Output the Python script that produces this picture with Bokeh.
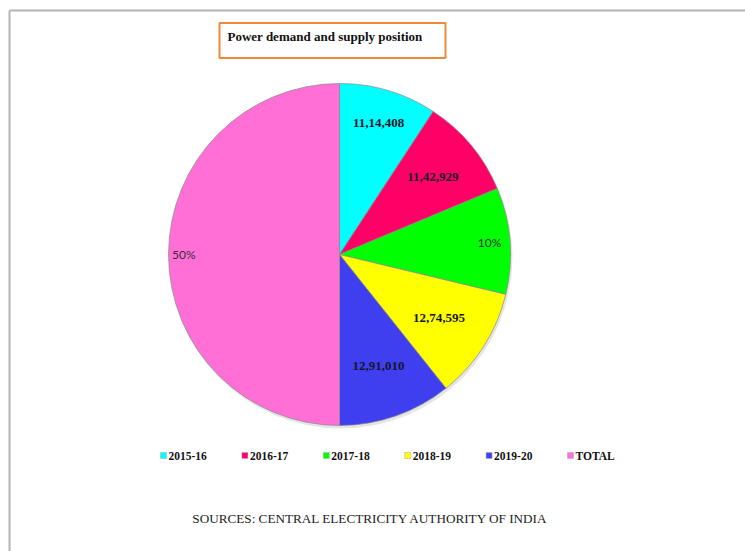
import math
from bokeh.plotting import figure
from bokeh.models import ColumnDataSource, Range1d
from bokeh.core.properties import value
from bokeh.embed import file_html
from bokeh.resources import INLINE

# ---- data ----
categories = ["2015-16", "2016-17", "2017-18", "2018-19", "2019-20", "TOTAL"]
demand = [1114408, 1142929, 1213326, 1274595, 1291010]
total = sum(demand)
values = demand + [total]
colors = ["#00FFFF", "#FF0066", "#00FF00", "#FFFF00", "#3F3FF0", "#FF6FD6"]
# label shown on each slice: value (bold) or percentage
label_kind = ["value", "value", "pct", "value", "value", "pct"]
label_r = [0.80, 0.71, 0.88, 0.69, 0.69, 0.91]

W, H = 745, 551
p = figure(width=W, height=H, output_backend="svg", toolbar_location=None,
           x_range=Range1d(0, W), y_range=Range1d(0, H), min_border=0)
p.axis.visible = False
p.grid.visible = False
p.outline_line_color = None
p.background_fill_color = "white"
p.border_fill_color = "white"

def Y(py):
    return H - py

# outer frame (gray lines top and left)
p.line([9, W], [Y(10), Y(10)], line_color="#B4B4B4", line_width=2)
p.line([9, 9], [Y(10), 0], line_color="#B4B4B4", line_width=2)

# pie geometry
cx, cy, R = 339, Y(254), 171
grand = sum(values)
starts, ends, mids = [], [], []
a = math.pi / 2
for v in values:
    ang = 2 * math.pi * v / grand
    starts.append(a)
    ends.append(a - ang)
    mids.append(a - ang / 2)
    a -= ang

# shadow
p.circle(x=[cx + 1.5], y=[cy - 2.5], radius=R + 0.5, fill_color="#000000",
         fill_alpha=0.10, line_color=None)

src = ColumnDataSource(dict(start=starts, end=ends, color=colors))
p.wedge(x=cx, y=cy, radius=R, start_angle="start", end_angle="end",
        direction="clock", fill_color="color", line_color="#8A8A8A",
        line_width=0.7, source=src)

# labels
vx, vy, vt = [], [], []
px_, py_, pt = [], [], []
for i, v in enumerate(values):
    lx = cx + label_r[i] * R * math.cos(mids[i])
    ly = cy + label_r[i] * R * math.sin(mids[i])
    if label_kind[i] == "value":
        s = str(v)
        # Indian digit grouping
        last3 = s[-3:]
        rest = s[:-3]
        groups = []
        while len(rest) > 2:
            groups.insert(0, rest[-2:])
            rest = rest[:-2]
        if rest:
            groups.insert(0, rest)
        vt.append(",".join(groups + [last3]))
        vx.append(lx)
        vy.append(ly)
    else:
        pt.append(f"{round(100 * v / grand)}%")
        px_.append(lx)
        py_.append(ly)

p.text(x=vx, y=vy, text=vt, text_font=value("Liberation Serif"),
       text_font_style="bold", text_font_size="13px", text_color="#15152a",
       text_align="center", text_baseline="middle")
p.text(x=px_, y=py_, text=pt, text_font=value("Lato"),
       text_font_size="12px", text_color="#3a2a3a",
       text_align="center", text_baseline="middle")

# title box
p.rect(x=[332], y=[Y(40)], width=226, height=35, fill_color="white",
       line_color="#F0883A", line_width=2)
p.text(x=[227], y=[Y(36)], text=["Power demand and supply position"],
       text_font=value("Liberation Serif"), text_font_style="bold",
       text_font_size="13px", text_color="#111111",
       text_align="left", text_baseline="middle")

# legend
leg_x = [163 + i * 81.4 for i in range(len(categories))]
leg_y = [Y(455)] * len(categories)
p.scatter(x=leg_x, y=leg_y, marker="square", size=6, fill_color=colors,
          line_color="#AAAAAA", line_width=0.5)
p.text(x=[x + 5 for x in leg_x], y=leg_y, text=categories,
       text_font=value("Liberation Serif"), text_font_style="bold",
       text_font_size="11.5px", text_color="#111111",
       text_align="left", text_baseline="middle")

# source note
p.text(x=[370], y=[Y(518)], text=["SOURCES: CENTRAL ELECTRICITY AUTHORITY OF INDIA"],
       text_font=value("Liberation Serif"), text_font_size="13.2px",
       text_color="#222222", text_align="center", text_baseline="middle")

open("out.html", "w").write(file_html(p, INLINE))
